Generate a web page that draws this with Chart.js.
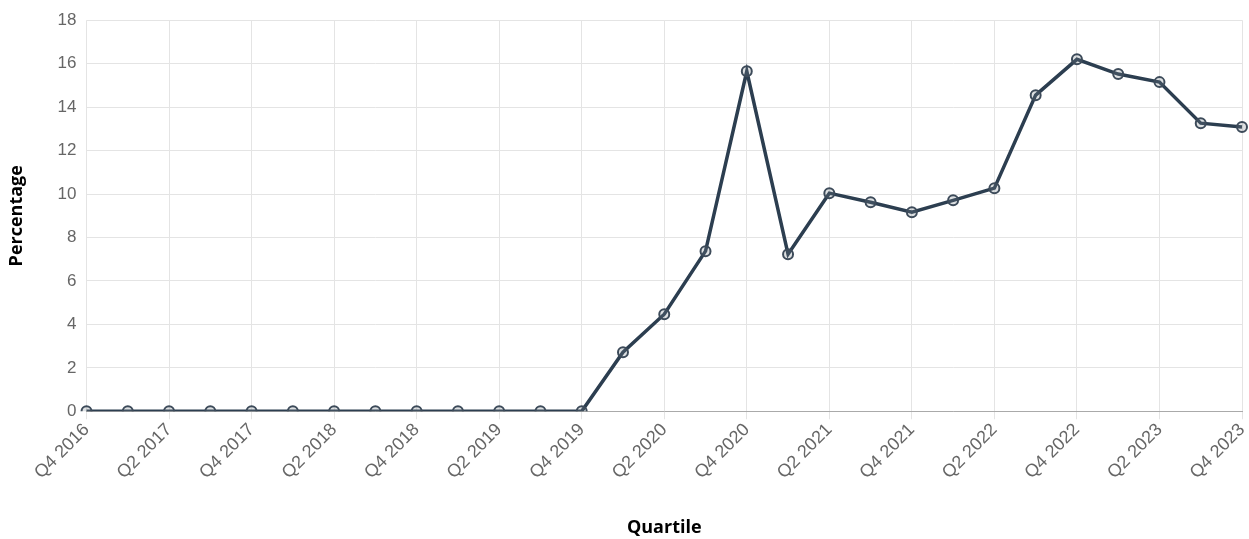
<!DOCTYPE html>
<html>
<head>
<meta charset="utf-8">
<script src="https://cdn.jsdelivr.net/npm/chart.js@4"></script>
<style>
  html, body { margin: 0; padding: 0; background: #fff; }
  #wrap { width: 1249px; height: 539px; position: relative; }
</style>
</head>
<body>
<div id="wrap"><canvas id="chart"></canvas></div>
<script>
  // Quarters from Q4 2016 to Q4 2023
  const quarters = [
    'Q4 2016', 'Q1 2017', 'Q2 2017', 'Q3 2017', 'Q4 2017',
    'Q1 2018', 'Q2 2018', 'Q3 2018', 'Q4 2018',
    'Q1 2019', 'Q2 2019', 'Q3 2019', 'Q4 2019',
    'Q1 2020', 'Q2 2020', 'Q3 2020', 'Q4 2020',
    'Q1 2021', 'Q2 2021', 'Q3 2021', 'Q4 2021',
    'Q1 2022', 'Q2 2022', 'Q3 2022', 'Q4 2022',
    'Q1 2023', 'Q2 2023', 'Q3 2023', 'Q4 2023'
  ];

  const percentages = [
    0, 0, 0, 0, 0,
    0, 0, 0, 0,
    0, 0, 0, 0,
    2.72, 4.47, 7.37, 15.65,
    7.23, 10.04, 9.62, 9.16,
    9.71, 10.27, 14.55, 16.2,
    15.52, 15.15, 13.26, 13.08
  ];

  const yTicks = { min: 0, max: 18, step: 2 };

  Chart.defaults.font.family = '"Liberation Sans", Arial, sans-serif';

  new Chart(document.getElementById('chart'), {
    type: 'line',
    data: {
      labels: quarters,
      datasets: [{
        label: 'Percentage',
        data: percentages,
        borderColor: '#2c3e50',
        borderWidth: 3.5,
        pointRadius: 5,
        pointBorderWidth: 2,
        pointBorderColor: '#3d4b5a',
        pointBackgroundColor: 'rgba(120,130,140,0.25)',
        tension: 0
      }]
    },
    options: {
      responsive: true,
      maintainAspectRatio: false,
      animation: false,
      layout: { padding: { top: 10, right: 5, left: 2, bottom: 0 } },
      plugins: {
        legend: { display: false },
        tooltip: { enabled: false }
      },
      scales: {
        x: {
          // last rotated label sits flush with the right edge in the original
          afterFit: (scale) => { scale.paddingRight = 0; },
          title: {
            display: true,
            text: 'Quartile',
            color: '#000',
            font: { family: '"Open Sans", sans-serif', size: 18, weight: 'bold' },
            padding: { top: 34, bottom: 0 }
          },
          ticks: {
            color: '#666',
            font: { size: 18 },
            padding: 0,
            maxRotation: 45,
            minRotation: 45,
            autoSkip: false,
            callback: function (val, i) { return i % 2 === 0 ? this.getLabelForValue(val) : null; }
          },
          grid: { color: '#e4e4e4', drawTicks: true, tickLength: 8 },
          border: { color: '#aaa' }
        },
        y: {
          min: yTicks.min,
          max: yTicks.max,
          title: {
            display: true,
            text: 'Percentage',
            color: '#000',
            font: { family: '"Open Sans", sans-serif', size: 18, weight: 'bold' },
            padding: { bottom: 20 }
          },
          ticks: {
            stepSize: yTicks.step,
            color: '#666',
            font: { size: 17 },
            padding: 10
          },
          grid: { color: '#e4e4e4', drawTicks: false },
          border: { display: false }
        }
      }
    }
  });
</script>
</body>
</html>
